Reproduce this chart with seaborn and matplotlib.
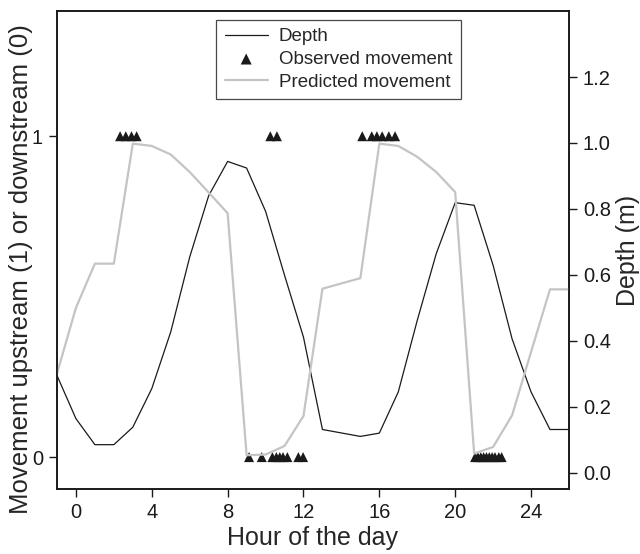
import pandas as pd
import matplotlib
matplotlib.use("Agg")
import matplotlib.pyplot as plt
import seaborn as sns

# Depth (m)
depth_hours = [-1, 0, 1, 2, 3, 4, 5, 6, 7, 8, 9, 10, 11, 12, 13,
               15, 16, 17, 18, 19, 20, 21, 22, 23, 24, 25, 26]
depth_m = [0.295, 0.164, 0.085, 0.085, 0.138, 0.255, 0.427, 0.654, 0.84, 0.944,
           0.924, 0.793, 0.599, 0.411, 0.131,
           0.110, 0.120, 0.245, 0.462, 0.664, 0.819, 0.811, 0.629, 0.406,
           0.245, 0.131, 0.131]

# Predicted movement
pred_hours = [-1, 0, 1, 2, 3, 4, 5, 6, 7, 8, 9, 10, 11, 12, 13,
              15, 16, 17, 18, 19, 20, 21, 22, 23, 24, 25, 26]
pred_move = [0.30, 0.50, 0.634, 0.634, 0.998, 0.991, 0.965, 0.912, 0.85, 0.787,
             0.053, 0.055, 0.081, 0.172, 0.558,
             0.590, 0.998, 0.991, 0.958, 0.912, 0.851, 0.058, 0.078, 0.174,
             0.366, 0.556, 0.556]

# Observed movement: 1 = upstream, 0 = downstream
up_hours = [2.33, 2.63, 2.93, 3.2, 10.25, 10.6,
            15.1, 15.6, 15.87, 16.15, 16.5, 16.83]
down_hours = [9.13, 9.8, 10.36, 10.57, 10.75, 10.92, 11.15, 11.73, 11.98,
              21.05, 21.2, 21.35, 21.5, 21.65, 21.8, 21.95, 22.1, 22.3, 22.45]

depth_df = pd.DataFrame({"hour": depth_hours, "depth": depth_m})
pred_df = pd.DataFrame({"hour": pred_hours, "move": pred_move})
obs_df = pd.DataFrame({"hour": up_hours + down_hours,
                       "move": [1] * len(up_hours) + [0] * len(down_hours)})

sns.set_style("ticks")
plt.rcParams["font.family"] = ["Liberation Sans", "DejaVu Sans"]

fig, ax = plt.subplots(figsize=(6.4, 5.54), dpi=100)
ax2 = ax.twinx()

sns.scatterplot(data=obs_df, x="hour", y="move", marker="^", s=52,
                color="#1a1a1a", edgecolor="none", ax=ax, label="Observed movement", zorder=5)
sns.lineplot(data=depth_df, x="hour", y="depth", color="#1a1a1a", linewidth=0.9,
             estimator=None, sort=False, ax=ax2, label="Depth")
sns.lineplot(data=pred_df, x="hour", y="move", color="#c4c4c4", linewidth=1.6,
             estimator=None, sort=False, ax=ax2, label="Predicted movement")

# one legend for both axes, in the reference order
h1, l1 = ax.get_legend_handles_labels()
h2, l2 = ax2.get_legend_handles_labels()
for a in (ax, ax2):
    if a.get_legend() is not None:
        a.get_legend().remove()
handles = [h2[0], h1[0], h2[1]]
labels = [l2[0], l1[0], l2[1]]
leg = ax2.legend(handles, labels, loc="upper center", bbox_to_anchor=(0.55, 0.99),
                 fontsize=13.5, frameon=True, fancybox=False, handlelength=2.3,
                 borderpad=0.45, labelspacing=0.3, handletextpad=0.6,
                 borderaxespad=0.2, markerscale=1.1)
leg.get_frame().set_edgecolor("#1a1a1a")
leg.get_frame().set_linewidth(0.9)

ax.set_xlim(-1, 26)
ax.set_ylim(-0.1, 1.39)
ax2.set_ylim(-0.05, 1.40)
ax.set_xticks([0, 4, 8, 12, 16, 20, 24])
ax.set_yticks([0, 1])
ax2.set_yticks([0.0, 0.2, 0.4, 0.6, 0.8, 1.0, 1.2])
ax2.set_yticklabels(["0.0", "0.2", "0.4", "0.6", "0.8", "1.0", "1.2"])

ax.set_xlabel("Hour of the day", fontsize=18, labelpad=3)
ax.set_ylabel("Movement upstream (1) or downstream (0)", fontsize=18.5)
ax.yaxis.set_label_coords(-0.047, 0.46)
ax2.set_ylabel("Depth (m)", fontsize=18, labelpad=4)

for a in (ax, ax2):
    a.tick_params(labelsize=14.5, length=6, width=1, pad=4,
                  color="#1a1a1a", labelcolor="#1a1a1a")
    for sp in a.spines.values():
        sp.set_visible(True)
        sp.set_linewidth(1.2)
        sp.set_color("#1a1a1a")

plt.subplots_adjust(left=0.089, right=0.889, top=0.980, bottom=0.117)
plt.savefig("out.png", dpi=100)
